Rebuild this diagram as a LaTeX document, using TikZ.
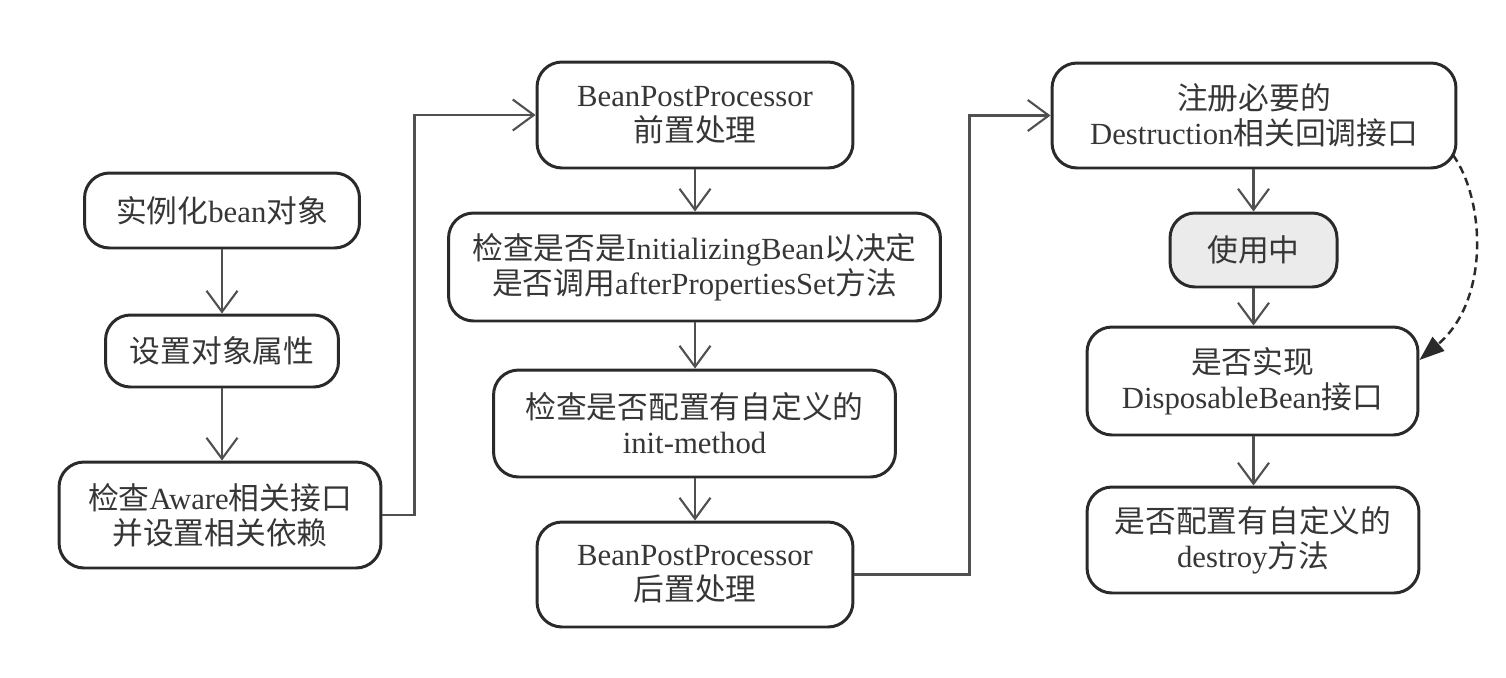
\documentclass[tikz,border=0pt]{standalone}
\usepackage{fontspec}
\setmainfont{Liberation Serif}
\newfontfamily\cjk{Noto Sans CJK SC}
\newcommand{\zhtxt}[1]{{\cjk #1}}
\usetikzlibrary{arrows.meta}
\definecolor{boxline}{HTML}{2A2A2A}
\definecolor{flowgray}{HTML}{505050}
\definecolor{txtgray}{HTML}{363636}
\definecolor{usefill}{HTML}{EBEBEB}
\begin{document}
\begin{tikzpicture}[x=0.02cm,y=-0.02cm,
		flow/.style={draw=flowgray,line width=1.2pt,-{Straight Barb[length=0.42cm,width=0.62cm]}},
		dashflow/.style={draw=boxline,line width=1.4pt,dash pattern=on 0.16cm off 0.1cm,-{Triangle[length=0.5cm,width=0.36cm]}}]
			\useasboundingbox (0,0) rectangle (1506,677);
			\begin{scope}[every node/.style={draw=boxline,line width=1.7pt,rounded corners=0.5cm,
				align=center,text=txtgray,inner sep=0pt,font=\fontsize{17.5}{19.9}\selectfont}]
			% left column
			\node (inst) at (222,210.5) [minimum width=5.5cm,minimum height=1.5cm]{\zhtxt{实例化}bean\zhtxt{对象}};
			\node (prop) at (222,351) [minimum width=4.66cm,minimum height=1.44cm]{\zhtxt{设置对象属性}};
			\node (aware) at (220,515) [minimum width=6.44cm,minimum height=2.12cm]{\zhtxt{检查}Aware\zhtxt{相关接口}\\\zhtxt{并设置相关依赖}};
			% middle column
			\node (pre) at (695,115) [minimum width=6.32cm,minimum height=2.12cm]{BeanPostProcessor\\\zhtxt{前置处理}};
			\node (initbean) at (694.5,267) [minimum width=9.84cm,minimum height=2.16cm]{\zhtxt{检查是否是}InitializingBean\zhtxt{以决定}\\\zhtxt{是否调用}afterPropertiesSet\zhtxt{方法}};
			\node (initm) at (694.5,423.5) [minimum width=8.04cm,minimum height=2.14cm]{\zhtxt{检查是否配置有自定义的}\\init-method};
			\node (post) at (695,574.5) [minimum width=6.32cm,minimum height=2.1cm]{BeanPostProcessor\\\zhtxt{后置处理}};
			% right column
			\node (regd) at (1254,115.5) [minimum width=8.08cm,minimum height=2.1cm]{\zhtxt{注册必要的}\\Destruction\zhtxt{相关回调接口}};
			\node (inuse) at (1253.5,250) [fill=usefill,minimum width=3.34cm,minimum height=1.48cm]{\zhtxt{使用中}};
			\node (disp) at (1252.5,381) [minimum width=6.62cm,minimum height=2.16cm]{\zhtxt{是否实现}\\DisposableBean\zhtxt{接口}};
			\node (destroy) at (1253,540) [minimum width=6.64cm,minimum height=2.12cm]{\zhtxt{是否配置有自定义的}\\destroy\zhtxt{方法}};
			\end{scope}
			
			% straight down, each arrow at the column's axis
			\draw[flow] (inst) -- (inst |- prop.north);
			\draw[flow] (prop) -- (prop |- aware.north);
			\draw[flow] (aware.east) -- ++(32,0) |- (pre.west);
			\draw[flow] (pre) -- (pre |- initbean.north);
			\draw[flow] (pre |- initbean.south) -- (pre |- initm.north);
			\draw[flow] (pre |- initm.south) -- (pre |- post.north);
			\draw[flow] (post.east) -- ++(115,0) |- (regd.west);
			\draw[flow] (inuse |- regd.south) -- (inuse.north);
			\draw[flow] (inuse) -- (inuse |- disp.north);
			\draw[flow] (inuse |- disp.south) -- (inuse |- destroy.north);
			
			\coordinate (dstart) at (1453,155);
			\draw[dashflow] (dstart) .. controls (1485,200) and (1490,300) .. ([yshift=0.42cm]disp.east);
			\end{tikzpicture}
\end{document}
